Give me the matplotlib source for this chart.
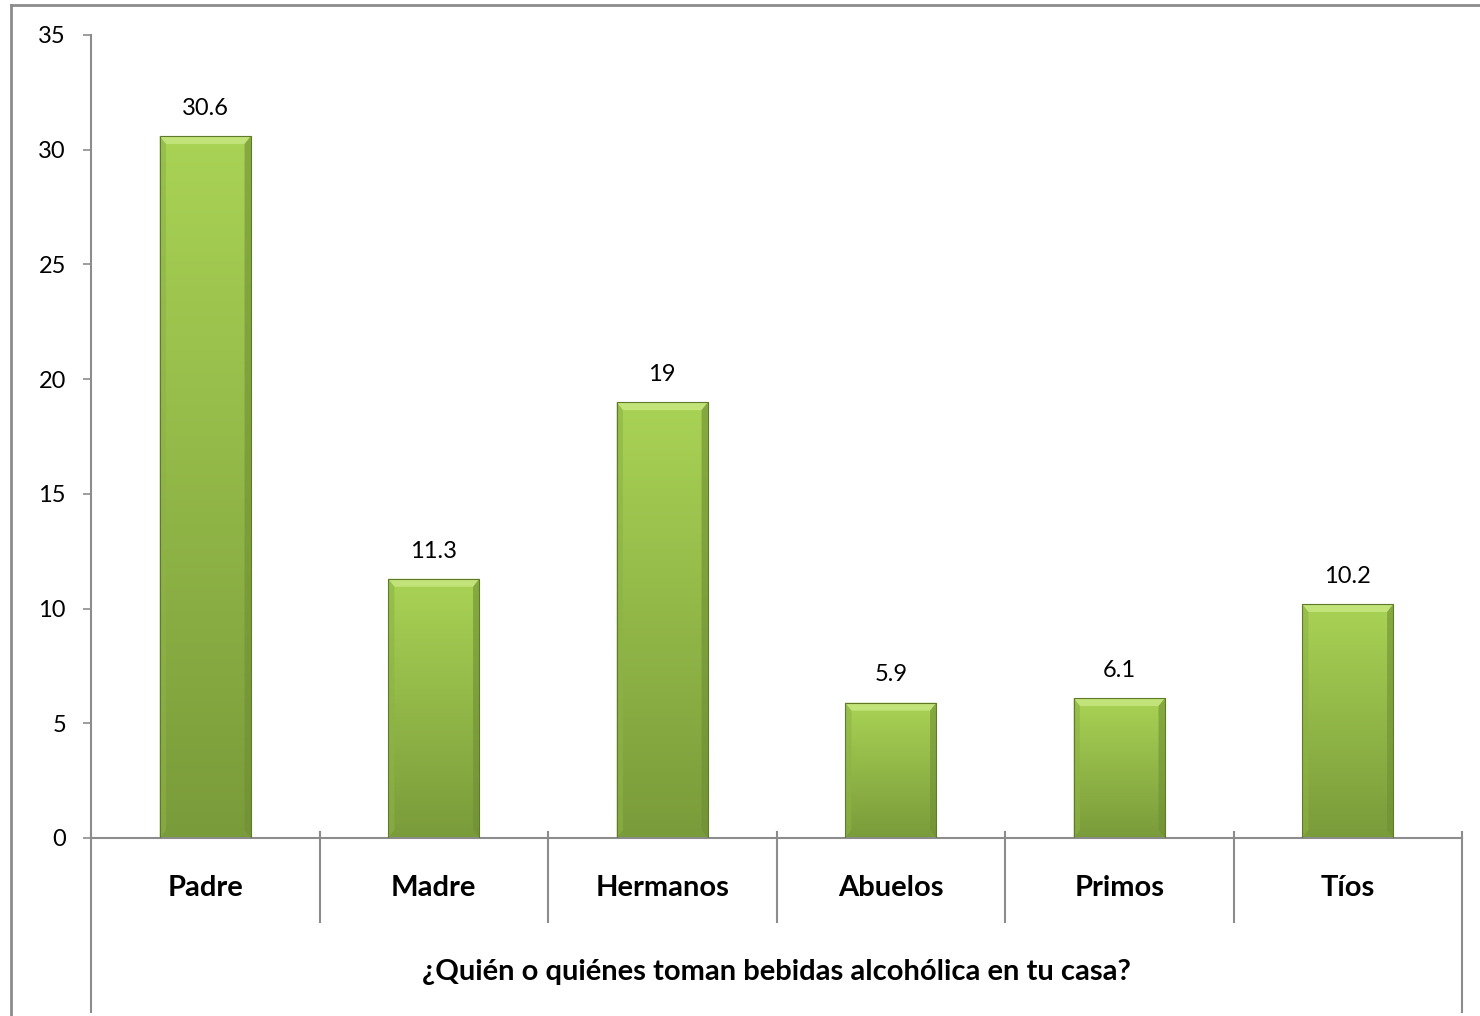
import numpy as np
import matplotlib.pyplot as plt
from matplotlib.lines import Line2D
from matplotlib.patches import Rectangle, Polygon

plt.rcParams['font.family'] = ['Lato', 'DejaVu Sans']

categories = ['Padre', 'Madre', 'Hermanos', 'Abuelos', 'Primos', 'Tíos']
values = [30.6, 11.3, 19, 5.9, 6.1, 10.2]
value_labels = ['30.6', '11.3', '19', '5.9', '6.1', '10.2']
y_ticks = [0, 5, 10, 15, 20, 25, 30, 35]
axis_title = '¿Quién o quiénes toman bebidas alcohólica en tu casa?'

W, H = 1480, 1016
fig = plt.figure(figsize=(W / 100, H / 100), dpi=100)

# plot area in pixel terms
px_left, px_right, px_top, px_bottom = 91, 1462, 35, 838
ax = fig.add_axes([px_left / W, 1 - px_bottom / H,
                   (px_right - px_left) / W, (px_bottom - px_top) / H])

n = len(categories)
x = np.arange(n)
bar_w = 0.40
grey = '#8c8c8c'

# vertical gradient for the bars: light green at top, darker at bottom
grad = np.linspace(0, 1, 256).reshape(-1, 1)
top_c = np.array([0xa9, 0xd3, 0x55]) / 255
bot_c = np.array([0x7a, 0x9b, 0x3a]) / 255
grad_img = (top_c * (1 - grad)[..., None] + bot_c * grad[..., None])

bars = ax.bar(x, values, width=bar_w, color='none', edgecolor='none', zorder=2)
for b, v, lab in zip(bars, values, value_labels):
    x0 = b.get_x()
    x1 = x0 + b.get_width()
    im = ax.imshow(grad_img, extent=[x0, x1, 0, v], aspect='auto',
                   origin='upper', zorder=2, interpolation='bilinear')
    im.set_clip_path(b)
    # bevel: light top edge, darker right and left edges
    bw = b.get_width() * 0.07
    bh = 0.35
    ax.add_patch(Polygon([[x0, v], [x1, v], [x1 - bw, v - bh], [x0 + bw, v - bh]],
                         closed=True, color='#c2e27a', lw=0, zorder=3))
    ax.add_patch(Polygon([[x1, v], [x1, 0], [x1 - bw, bh], [x1 - bw, v - bh]],
                         closed=True, color='#6f8f33', alpha=0.6, lw=0, zorder=3))
    ax.add_patch(Polygon([[x0, v], [x0, 0], [x0 + bw, bh], [x0 + bw, v - bh]],
                         closed=True, color='#8db345', alpha=0.6, lw=0, zorder=3))
    ax.add_patch(Rectangle((x0, 0), b.get_width(), v, fill=False,
                           edgecolor='#5f7a2a', lw=0.8, zorder=4))
    ax.text(b.get_x() + b.get_width() / 2, v + 0.75, lab,
            ha='center', va='bottom', fontsize=17, color='black')

ax.set_xlim(-0.5, n - 0.5)
ax.set_ylim(0, 35)
ax.set_yticks(y_ticks)
ax.tick_params(axis='y', direction='out', length=6, width=1.2, color=grey,
               labelsize=17, pad=12)
ax.set_xticks([])

for s in ['top', 'right']:
    ax.spines[s].set_visible(False)
for s in ['left', 'bottom']:
    ax.spines[s].set_color(grey)
    ax.spines[s].set_linewidth(1.5)

# category table below the x axis
def fx(v):
    return (px_left + (v + 0.5) / n * (px_right - px_left)) / W

def fy(py):
    return 1 - py / H

for k in range(n + 1):
    xb = fx(k - 0.5)
    y_end = 1012 if k in (0, n) else 922
    fig.add_artist(Line2D([xb, xb], [fy(832), fy(y_end)], color=grey, lw=1.5))

for k, c in enumerate(categories):
    fig.text(fx(k), fy(888), c, ha='center', va='center',
             fontsize=21, fontweight='bold')

fig.text((px_left + px_right) / 2 / W, fy(972), axis_title,
         ha='center', va='center', fontsize=21, fontweight='bold')

# outer chart frame (left and top edges)
fig.add_artist(Line2D([11 / W, 11 / W], [fy(5), 0], color=grey, lw=2))
fig.add_artist(Line2D([11 / W, 1], [fy(5), fy(5)], color=grey, lw=2))

fig.savefig('out.png', dpi=100, facecolor='white')
